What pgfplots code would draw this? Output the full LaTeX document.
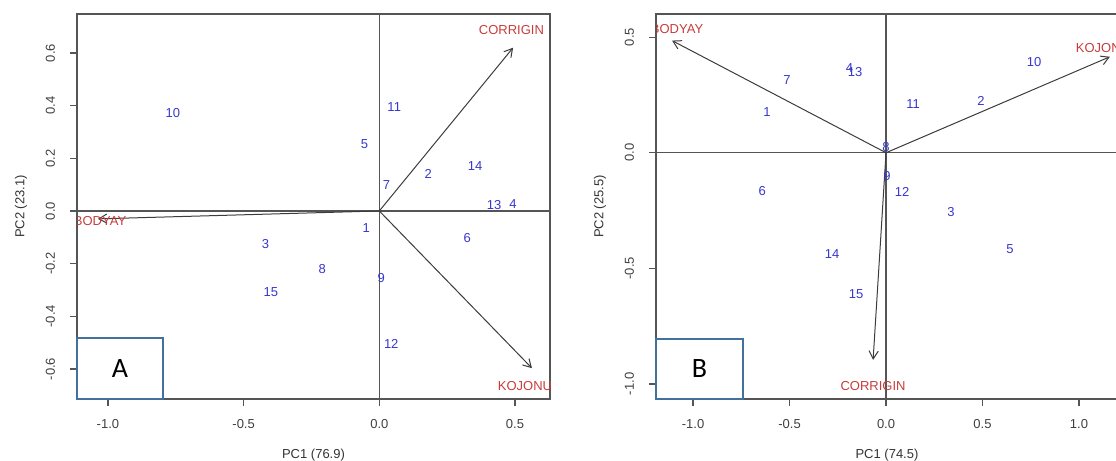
\documentclass[border=0pt]{standalone}
\usepackage{fontspec}
\setmainfont{Liberation Sans}
\newfontfamily\carlito{Carlito}
\usepackage{pgfplots}
\pgfplotsset{compat=1.18}
\usetikzlibrary{arrows.meta}
\definecolor{ptblue}{RGB}{55,55,205}
\definecolor{varred}{RGB}{200,60,60}
\definecolor{framec}{RGB}{85,85,85}
\definecolor{arrowc}{RGB}{60,60,60}
\definecolor{boxblue}{RGB}{65,113,156}

\pgfplotstableread{
x y lab
-0.761 0.373 10
0.055 0.395 11
-0.055 0.255 5
0.353 0.171 14
0.180 0.141 2
0.026 0.099 7
0.423 0.023 13
0.493 0.027 4
-0.048 -0.065 1
0.324 -0.103 6
-0.419 -0.125 3
-0.210 -0.220 8
-0.400 -0.308 15
0.007 -0.255 9
0.044 -0.506 12
}\ptsA
\pgfplotstableread{
x y lab
0.487 0.688 CORRIGIN
0.537 -0.665 KOJONU
-1.029 -0.038 BODYAY
}\varsA
\pgfplotstableread{
x y lab
-0.513 0.316 7
-0.617 0.178 1
-0.190 0.368 4
-0.160 0.351 13
-0.642 -0.164 6
0.767 0.394 10
0.140 0.212 11
0.492 0.225 2
0.000 0.026 8
0.005 -0.100 9
0.083 -0.169 12
0.337 -0.255 3
0.642 -0.416 5
-0.280 -0.440 14
-0.155 -0.610 15
}\ptsB
\pgfplotstableread{
x y lab
-1.083 0.537 BODYAY
1.124 0.455 KOJONU
-0.067 -1.009 CORRIGIN
}\varsB

\pgfplotsset{
  biplot/.style={
    scale only axis, height=192.5pt, anchor=south west,
    axis line style={framec, line width=0.6pt},
    tick style={framec, line width=0.6pt},
    major tick length=3.5pt, tick align=outside,
    xtick pos=bottom, ytick pos=left,
    ticklabel style={font=\fontsize{6.5pt}{7.8pt}\selectfont, text=black!75},
    xticklabel style={yshift=-3pt},
    yticklabel style={rotate=90, anchor=south, yshift=4pt},
    label style={font=\fontsize{6.5pt}{7.8pt}\selectfont, text=black!80},
    xlabel style={at={(axis description cs:0.5,0)}, anchor=center, yshift=-28pt},
    ylabel style={at={(axis description cs:0,0.5)}, anchor=center, yshift=28pt},
    clip marker paths=true,
  },
  lbl/.style={draw=none, mark=none, nodes near coords, point meta=explicit symbolic,
    every node near coord/.append style={anchor=center, inner sep=0pt, font=\fontsize{6.5pt}{7.8pt}\selectfont, text=#1}},
  vec/.style={arrowc, line width=0.5pt, no marks, -{Straight Barb[length=4pt,width=4.6pt,line width=0.5pt]}},
  zl/.style={framec, line width=0.6pt, no marks, forget plot},
}

\begin{document}
\begin{tikzpicture}
\useasboundingbox (0,0) rectangle (558pt,230.5pt);
\begin{axis}[biplot, name=A, at={(38.5pt,31pt)}, width=236.5pt,
  xmin=-1.114, xmax=0.629, ymin=-0.714, ymax=0.748,
  xtick={-1,-0.5,0,0.5}, xticklabels={-1.0,-0.5,0.0,0.5},
  ytick={-0.6,-0.4,-0.2,0,0.2,0.4,0.6}, yticklabels={-0.6,-0.4,-0.2,0.0,0.2,0.4,0.6},
  xlabel={PC1 (76.9)}, ylabel={PC2 (23.1)}]
\addplot[zl] coordinates {(-2,0) (2,0)};
\addplot[zl] coordinates {(0,-2) (0,2)};
\addplot[vec] coordinates {(0,0) (0.493,0.620)};
\addplot[vec] coordinates {(0,0) (0.5625,-0.597)};
\addplot[vec] coordinates {(0,0) (-1.037,-0.030)};
\addplot[lbl=ptblue] table[x=x,y=y,meta=lab] {\ptsA};
\addplot[lbl=varred] table[x=x,y=y,meta=lab] {\varsA};
\end{axis}
\draw[boxblue, line width=0.7pt, fill=white] (A.south west) rectangle ([shift={(43pt,30.5pt)}]A.south west);
\node[font=\carlito\fontsize{14pt}{16pt}\selectfont] at ([shift={(21.5pt,15.25pt)}]A.south west) {A};

\begin{axis}[biplot, name=B, at={(328pt,31pt)}, width=231pt,
  xmin=-1.192, xmax=1.202, ymin=-1.065, ymax=0.6,
  xtick={-1,-0.5,0,0.5,1}, xticklabels={-1.0,-0.5,0.0,0.5,1.0},
  ytick={-1,-0.5,0,0.5}, yticklabels={-1.0,-0.5,0.0,0.5},
  xlabel={PC1 (74.5)}, ylabel={PC2 (25.5)}]
\addplot[zl] coordinates {(-2,0) (2,0)};
\addplot[zl] coordinates {(0,-2) (0,2)};
\addplot[vec] coordinates {(0,0) (-1.109,0.485)};
\addplot[vec] coordinates {(0,0) (1.160,0.415)};
\addplot[vec] coordinates {(0,0) (-0.067,-0.896)};
\addplot[lbl=ptblue] table[x=x,y=y,meta=lab] {\ptsB};
\addplot[lbl=varred] table[x=x,y=y,meta=lab] {\varsB};
\end{axis}
\draw[boxblue, line width=0.7pt, fill=white] (B.south west) rectangle ([shift={(43.5pt,30pt)}]B.south west);
\node[font=\carlito\fontsize{14pt}{16pt}\selectfont] at ([shift={(21.75pt,15pt)}]B.south west) {B};
\end{tikzpicture}
\end{document}
